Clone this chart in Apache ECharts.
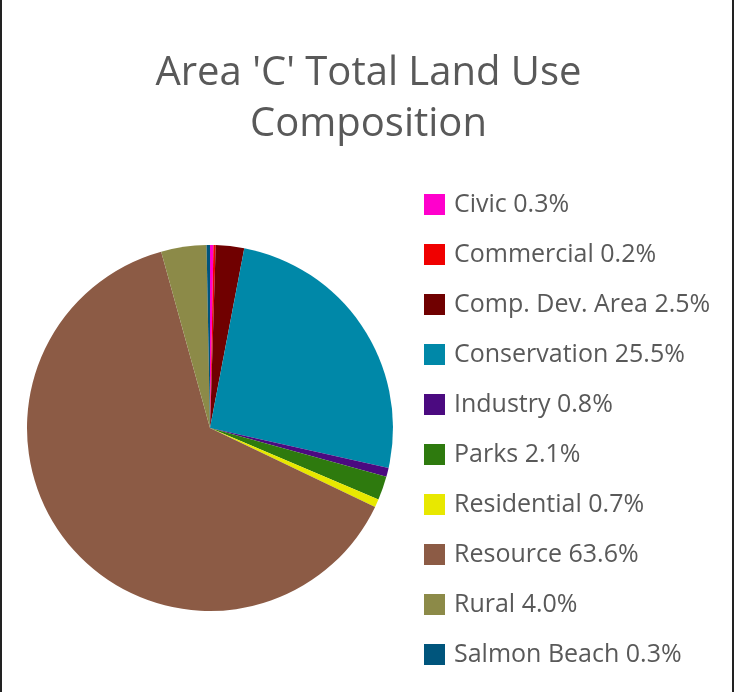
<!DOCTYPE html>
<html>
<head>
<meta charset="utf-8">
<script src="https://cdn.jsdelivr.net/npm/echarts@6/dist/echarts.min.js"></script>
<style>
html,body{margin:0;padding:0;background:#fff;}
#chart{width:737px;height:692px;}
</style>
</head>
<body>
<div id="chart"></div>
<script>
const categories = ['Civic', 'Commercial', 'Comp. Dev. Area', 'Conservation', 'Industry', 'Parks', 'Residential', 'Resource', 'Rural', 'Salmon Beach'];
const values = [0.3, 0.2, 2.5, 25.5, 0.8, 2.1, 0.7, 63.6, 4.0, 0.3];
const colors = ['#FF00CC', '#F00000', '#700000', '#0088A8', '#4B0A80', '#2E7A0E', '#E8E800', '#8C5B45', '#8C8A48', '#00557C'];
const titleText = "Area 'C' Total Land Use\nComposition";

const chart = echarts.init(document.getElementById('chart'), null, {renderer: 'canvas'});
const data = categories.map((c, i) => ({name: c, value: values[i], itemStyle: {color: colors[i]}}));
const valueMap = {};
categories.forEach((c, i) => valueMap[c] = values[i]);

chart.setOption({
  animation: false,
  backgroundColor: '#ffffff',
  title: {
    text: titleText,
    left: 'center',
    top: 48,
    padding: 0,
    textStyle: {
      fontFamily: 'Open Sans',
      fontWeight: 'normal',
      fontSize: 40,
      lineHeight: 51,
      color: '#595959'
    }
  },
  legend: {
    orient: 'vertical',
    left: 424,
    top: 192,
    height: 495,
    padding: 0,
    itemWidth: 21,
    itemHeight: 21,
    itemGap: 25,
    icon: 'rect',
    selectedMode: false,
    formatter: name => name + ' ' + valueMap[name].toFixed(1) + '%',
    textStyle: {
      fontFamily: 'Open Sans',
      fontSize: 25,
      lineHeight: 21,
      padding: [0, 0, 0, 4],
      color: '#595959'
    },
    data: categories
  },
  series: [{
    type: 'pie',
    center: [210, 428],
    radius: 183,
    startAngle: 90,
    clockwise: true,
    label: {show: false},
    labelLine: {show: false},
    emphasis: {disabled: true},
    itemStyle: {borderWidth: 0},
    data: data
  }],
  graphic: [
    {type: 'rect', shape: {x: 0, y: 0, width: 2, height: 692}, style: {fill: '#222'}},
    {type: 'rect', shape: {x: 732, y: 0, width: 2, height: 692}, style: {fill: '#222'}}
  ]
});
</script>
</body>
</html>
